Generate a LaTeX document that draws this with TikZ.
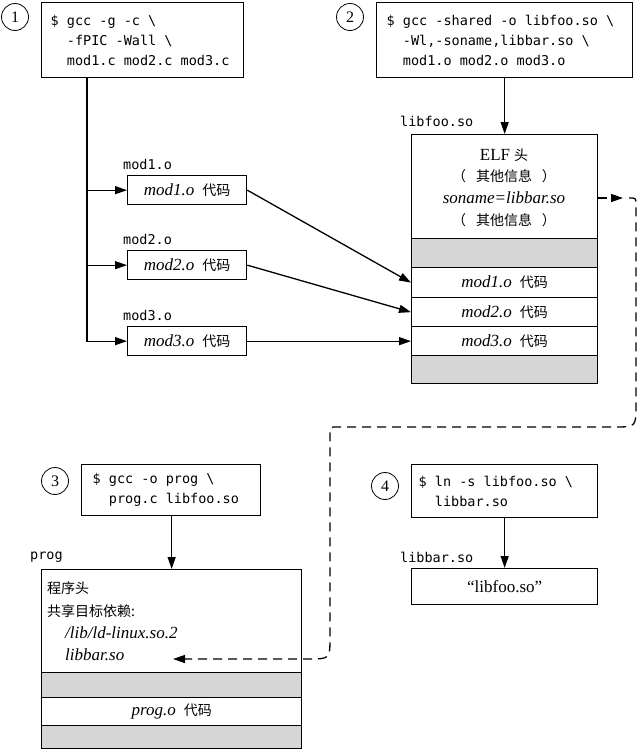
\documentclass[tikz,border=0pt]{standalone}
\usepackage{fontspec}
\setmainfont{Liberation Serif}
\setmonofont{DejaVu Sans Mono}
\newfontfamily\cjkfont{Noto Sans CJK SC}
\usetikzlibrary{arrows.meta}
\newcommand\monotxt{\fontsize{13.5}{20}\selectfont\ttfamily}
\newcommand\sertxt{\fontsize{17}{20}\selectfont\rmfamily}
\newcommand\zh[1]{{\fontsize{14}{20}\selectfont\cjkfont #1}}
\newcommand\sq{\phantom{0}}
\newcommand\ind{\phantom{00}}
\newcommand\bsl{\textbackslash}
\newcommand\modcode[1]{{\itshape #1}\hspace{8pt}\zh{代码}}
\begin{document}
\begin{tikzpicture}[x=1pt,y=-1pt,
  box/.style={draw, line width=1.3pt, inner sep=0pt, anchor=north west},
  cmdbox/.style={box, align=left, font=\monotxt},
  elfsec/.style={box, minimum width=186pt, font=\sertxt},
  progsec/.style={box, minimum width=260pt, font=\sertxt},
  modbox/.style={box, minimum width=119pt, minimum height=29pt, font=\sertxt},
  grayfill/.style={fill=gray!32},
  conn/.style={line width=1.3pt, -{Triangle[length=12pt,width=8pt]}},
  dashconn/.style={conn, dash pattern=on 9pt off 6pt},
  lbl/.style={font=\monotxt, inner sep=0pt, anchor=west},
  txt/.style={inner sep=0pt},
  numc/.style={circle, draw, line width=0.8pt, minimum size=27pt, inner sep=0pt, font=\fontsize{16}{16}\selectfont}]
\useasboundingbox (0,0) rectangle (638,750);

% step 1
\node[numc] (c1) at (15,17) {1};
\node[cmdbox, text width=184pt, inner xsep=9pt, minimum height=75pt] (cmd1) at (41,2)
  {\$\sq gcc\sq -g\sq -c\sq\bsl\\\ind -fPIC\sq -Wall\sq\bsl\\\ind mod1.c\sq mod2.c\sq mod3.c};
\coordinate (trunk) at (87,77);

\node[lbl] (mod1lbl) at (123,164) {mod1.o};
\node[lbl] (mod2lbl) at (123,239) {mod2.o};
\node[lbl] (mod3lbl) at (123,315) {mod3.o};
\node[modbox] (mod1) at (127,175) {\modcode{mod1.o}};
\node[modbox] (mod2) at (127,250) {\modcode{mod2.o}};
\node[modbox] (mod3) at (127,326) {\modcode{mod3.o}};

% step 2
\node[numc] (c2) at (350,17) {2};
\node[cmdbox, text width=236pt, inner xsep=10pt, minimum height=75pt] (cmd2) at (376,2)
  {\$\sq gcc\sq -shared\sq -o\sq libfoo.so\sq\bsl\\\ind -Wl,-soname,libbar.so\sq\bsl\\\ind mod1.o\sq mod2.o\sq mod3.o};

\node[lbl] (libfoolbl) at (400,121) {libfoo.so};
\node[elfsec, minimum height=104pt] (elfhead) at (411,134) {};
\node[elfsec, minimum height=29pt, grayfill] (elfgap1) at (411,238) {};
\node[elfsec, minimum height=30pt] (elfm1) at (411,267) {\modcode{mod1.o}};
\node[elfsec, minimum height=29pt] (elfm2) at (411,297) {\modcode{mod2.o}};
\node[elfsec, minimum height=29pt] (elfm3) at (411,326) {\modcode{mod3.o}};
\node[elfsec, minimum height=28pt, grayfill] (elfgap2) at (411,355) {};

\node[txt, font=\sertxt] (elft1) at (504,155) {ELF\hspace{4pt}\zh{头}};
\node[txt] (elft2) at (504,176) {\zh{（\hspace{10pt}其他信息\hspace{10pt}）}};
\node[txt, font=\sertxt\itshape] (soname) at (504,198) {soname=libbar.so};
\node[txt] (elft4) at (504,220) {\zh{（\hspace{10pt}其他信息\hspace{10pt}）}};

% step 3
\node[numc] (c3) at (55,481) {3};
\node[cmdbox, text width=157pt, inner xsep=11pt, minimum height=51pt] (cmd3) at (81,464)
  {\$\sq gcc\sq -o\sq prog\sq\bsl\\\ind prog.c\sq libfoo.so};
\node[lbl] (proglbl) at (30,557) {prog};
\node[progsec, minimum height=103pt] (proghead) at (41,569) {};
\node[progsec, minimum height=25pt, grayfill] (proggap1) at (41,672) {};
\node[progsec, minimum height=28pt] (progcode) at (41,697) {\modcode{prog.o}};
\node[progsec, minimum height=23pt, grayfill] (proggap2) at (41,725) {};
\node[txt, anchor=west] (ph1) at (47,588) {\zh{程序头}};
\node[txt, anchor=west] (ph2) at (47,611) {\zh{共享目标依赖:}};
\node[txt, anchor=west, font=\sertxt\itshape] (ph3) at (65,633) {/lib/ld-linux.so.2};
\node[txt, anchor=west, font=\sertxt\itshape] (ph4) at (65,655) {libbar.so};
\coordinate (dashend) at (173,659);

% step 4
\node[numc] (c4) at (385,486) {4};
\node[cmdbox, text width=172pt, inner xsep=7pt, minimum height=53pt] (cmd4) at (411,464)
  {\$\sq ln\sq -s\sq libfoo.so\sq\bsl\\\ind libbar.so};
\node[lbl] (libbarlbl) at (400,557) {libbar.so};
\node[box, minimum width=186pt, minimum height=36pt, font=\sertxt] (libbarbox) at (411,568) {“libfoo.so”};

% connectors
\draw[conn] (trunk) |- (mod3.west);
\draw[conn] (trunk |- mod1.west) -- (mod1.west);
\draw[conn] (trunk |- mod2.west) -- (mod2.west);
\draw[conn] (mod1.east) -- (elfm1.west);
\draw[conn] (mod2.east) -- (elfm2.west);
\draw[conn] (mod3.east) -- (elfm3.west);
\draw[conn] (cmd2.south) -- (elfhead.north);
\draw[conn] (cmd3.south -| proghead.north) -- (proghead.north);
\draw[conn] (cmd4.south) -- (libbarbox.north);

\draw[dashconn] (soname -| elfhead.east) -- (623,198);
\draw[dashconn] (629,198) .. controls (636,198) .. (636,205) -- (636,405)
  .. controls (636,427) .. (614,427) -- (337,427)
  .. controls (330,427) .. (330,434) -- (330,637)
  .. controls (330,659) .. (308,659) -- (dashend);
\end{tikzpicture}
\end{document}
